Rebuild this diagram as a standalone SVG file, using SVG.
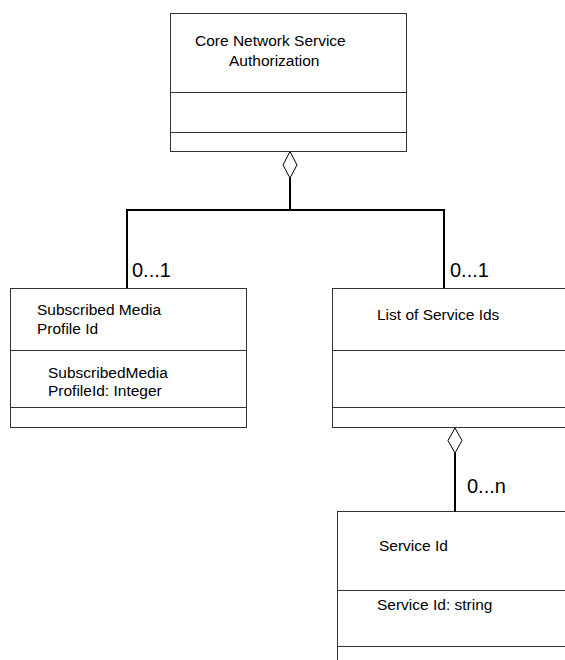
<svg xmlns="http://www.w3.org/2000/svg" width="565" height="660" viewBox="0 0 565 660">
<style>
.box{fill:#fff;stroke:#333;stroke-width:1}
.div{stroke:#333;stroke-width:1}
.t{font-family:"Liberation Sans",Arial,sans-serif;font-size:15.5px;fill:#000}
.m{font-family:"Liberation Sans",Arial,sans-serif;font-size:20px;fill:#000}
.c{fill:none;stroke:#000;stroke-width:2}
.d{fill:#fff;stroke:#000;stroke-width:1}
</style>
<rect width="565" height="660" fill="#fff"/>
<g id="core">
<rect class="box" x="170.5" y="13.5" width="236" height="138"/>
<line class="div" x1="170" y1="92.5" x2="407" y2="92.5"/>
<line class="div" x1="170" y1="132.5" x2="407" y2="132.5"/>
<text class="t" x="195" y="46">Core Network Service</text>
<text class="t" x="229" y="66">Authorization</text>
</g>
<g id="subscribed">
<rect class="box" x="10.5" y="288.5" width="236" height="139"/>
<line class="div" x1="10" y1="350.5" x2="247" y2="350.5"/>
<line class="div" x1="10" y1="407.5" x2="247" y2="407.5"/>
<text class="t" x="37" y="315">Subscribed Media</text>
<text class="t" x="37" y="334">Profile Id</text>
<text class="t" x="48" y="378">SubscribedMedia</text>
<text class="t" x="48" y="396">ProfileId: Integer</text>
</g>
<g id="list">
<rect class="box" x="332.5" y="288.5" width="240" height="139"/>
<line class="div" x1="332" y1="350.5" x2="565" y2="350.5"/>
<line class="div" x1="332" y1="407.5" x2="565" y2="407.5"/>
<text class="t" x="377" y="320">List of Service Ids</text>
</g>
<g id="serviceid">
<rect class="box" x="337.5" y="511.5" width="240" height="160"/>
<line class="div" x1="337" y1="590.5" x2="565" y2="590.5"/>
<line class="div" x1="337" y1="646.5" x2="565" y2="646.5"/>
<text class="t" x="379" y="551">Service Id</text>
<text class="t" x="377" y="610">Service Id: string</text>
</g>
<g id="connectors">
<polyline class="c" points="290,178 290,210"/>
<polyline class="c" points="127,288 127,210 444,210 444,288"/>
<polygon class="d" points="290,151.5 297,165 290,178 283,165"/>
<line class="c" x1="455" y1="453" x2="455" y2="512"/>
<polygon class="d" points="455,428 462,440.5 455,453 448,440.5"/>
<text class="m" x="132" y="277">0...1</text>
<text class="m" x="450" y="277">0...1</text>
<text class="m" x="467" y="493">0...n</text>
</g>
</svg>
